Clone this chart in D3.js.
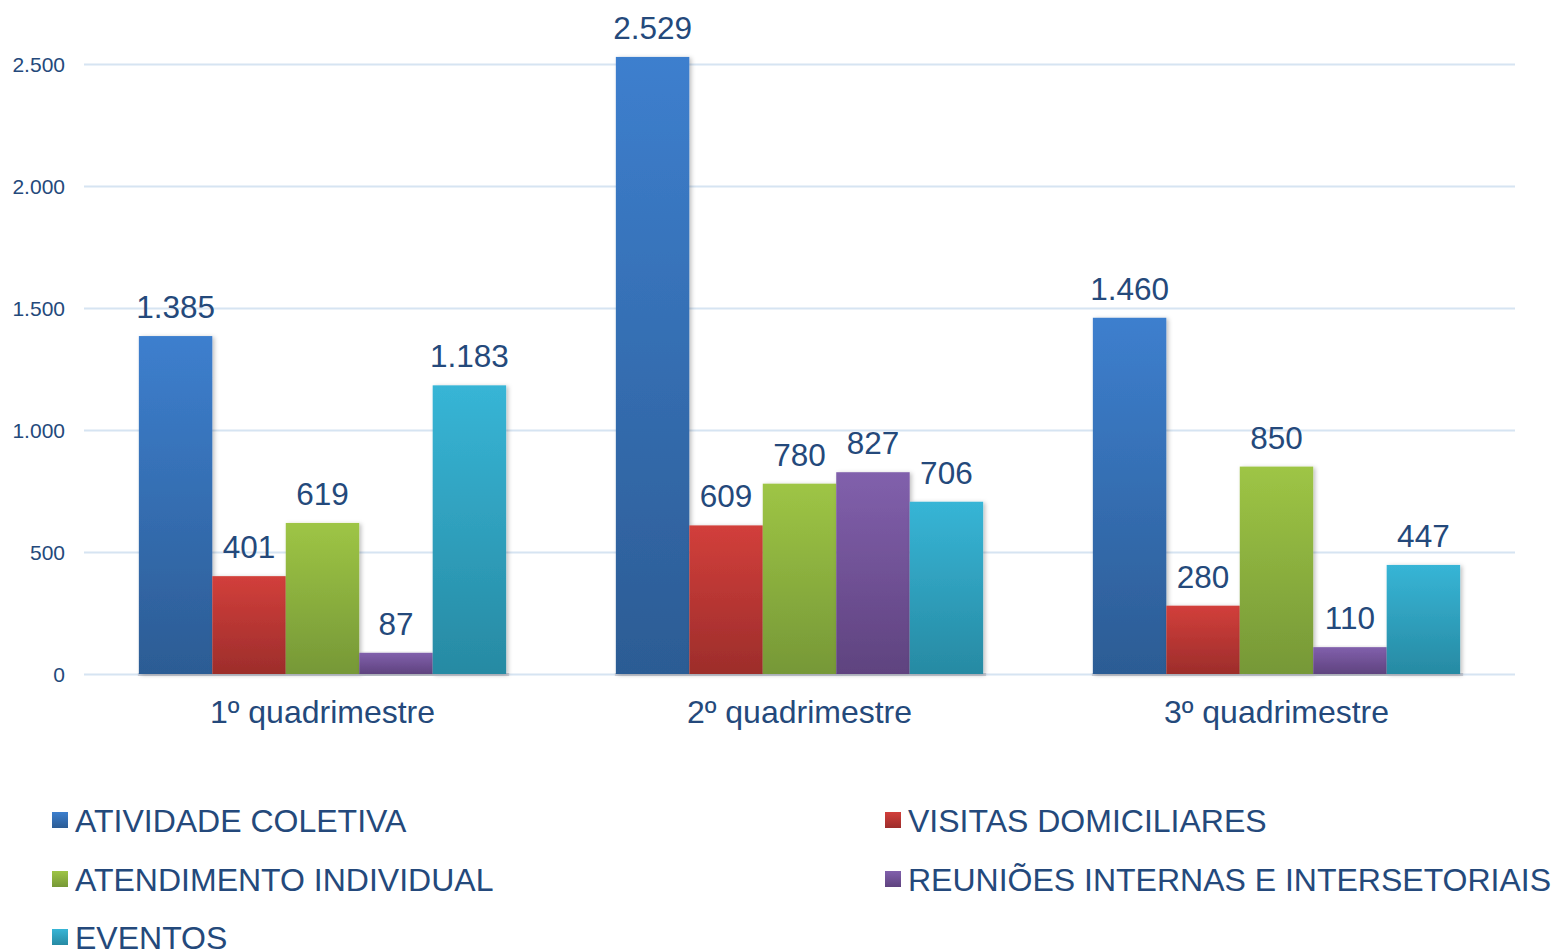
<!DOCTYPE html>
<html lang="pt">
<head>
<meta charset="utf-8">
<title>quadrimestres</title>
<script src="https://cdn.jsdelivr.net/npm/d3@7"></script>
<style>
  body { margin: 0; background: #fff; }
  text { font-family: "Liberation Sans", Arial, sans-serif; fill: #24497b; }
  .grid line { stroke: #d6e4f2; stroke-width: 2; }
  .grid path { stroke-width: 0; }
</style>
</head>
<body>
<script>
// data
var quarters = ["1º quadrimestre", "2º quadrimestre", "3º quadrimestre"];
var series = ["ATIVIDADE COLETIVA", "VISITAS DOMICILIARES", "ATENDIMENTO INDIVIDUAL",
              "REUNIÕES INTERNAS E INTERSETORIAIS", "EVENTOS"];
var atividade = [1385, 2529, 1460];
var visitas = [401, 609, 280];
var atendimento = [619, 780, 850];
var reunioes = [87, 827, 110];
var eventos = [1183, 706, 447];
var yTicks = [0, 500, 1000, 1500, 2000, 2500];

var values = [atividade, visitas, atendimento, reunioes, eventos];
var colorsTop = ["#3d7fce", "#d23f3b", "#9ec545", "#8160ac", "#37b5d6"];
var colorsBottom = ["#2c5c94", "#9d2d2b", "#769837", "#5f437f", "#278aa3"];

var W = 1552, H = 949;
var margin = {left: 84, right: 37, top: 64, bottom: 275};
var width = W - margin.left - margin.right,
    height = 674 - margin.top;

var svg = d3.select("body").append("svg")
    .attr("width", W).attr("height", H);

var defs = svg.append("defs");
series.forEach(function(s, i) {
  var g = defs.append("linearGradient").attr("id", "grad" + i)
      .attr("x1", 0).attr("y1", 0).attr("x2", 0).attr("y2", 1);
  g.append("stop").attr("offset", "0%").attr("stop-color", colorsTop[i]);
  g.append("stop").attr("offset", "100%").attr("stop-color", colorsBottom[i]);
});
var f = defs.append("filter").attr("id", "shadow")
    .attr("x", "-20%").attr("y", "-5%").attr("width", "150%").attr("height", "110%");
f.append("feDropShadow").attr("dx", 2).attr("dy", 1).attr("stdDeviation", 2)
    .attr("flood-color", "#000").attr("flood-opacity", 0.25);

var chart = svg.append("g")
    .attr("transform", "translate(" + margin.left + "," + margin.top + ")");

var x0 = d3.scaleBand().domain(quarters).range([0, width])
    .paddingInner(0.23).paddingOuter(0.115);
var x1 = d3.scaleBand().domain(series).range([0, x0.bandwidth()]);
var y = d3.scaleLinear().domain([0, 2500]).range([height, 0]);

// gridlines
chart.append("g").attr("class", "grid")
  .call(d3.axisLeft(y).tickValues(yTicks).tickSize(-width).tickFormat(""));

// y labels
chart.selectAll(".ylab").data(yTicks).enter().append("text")
  .attr("class", "ylab")
  .attr("x", -19)
  .attr("y", function(d) { return y(d); })
  .attr("dy", "0.36em")
  .attr("text-anchor", "end")
  .style("font-size", "21px")
  .text(function(d) { return d3.format(",")(d).replace(/,/g, "."); });

// floor under each group
chart.selectAll(".floor").data(quarters).enter().append("rect")
  .attr("class", "floor")
  .attr("x", function(d) { return x0(d) - 1; })
  .attr("y", height - 1)
  .attr("width", x0.bandwidth() + 4)
  .attr("height", 3)
  .attr("fill", "#c9ced8");

// bars
var groups = chart.selectAll(".grp").data(quarters).enter().append("g")
  .attr("class", "grp")
  .attr("transform", function(d) { return "translate(" + x0(d) + ",0)"; });

groups.each(function(q, qi) {
  var g = d3.select(this);
  var rows = series.map(function(s, si) { return {s: s, i: si, v: values[si][qi]}; });
  g.selectAll("rect").data(rows).enter().append("rect")
    .attr("x", function(d) { return x1(d.s); })
    .attr("y", function(d) { return y(d.v); })
    .attr("width", x1.bandwidth())
    .attr("height", function(d) { return height - y(d.v); })
    .attr("fill", function(d) { return "url(#grad" + d.i + ")"; })
    .attr("filter", "url(#shadow)");
  g.selectAll(".val").data(rows).enter().append("text")
    .attr("class", "val")
    .attr("x", function(d) { return x1(d.s) + x1.bandwidth() / 2; })
    .attr("y", function(d) { return y(d.v) - 18; })
    .attr("text-anchor", "middle")
    .style("font-size", "31.5px")
    .text(function(d) { return d3.format(",")(d.v).replace(/,/g, "."); });
});

// x labels
chart.selectAll(".xlab").data(quarters).enter().append("text")
  .attr("class", "xlab")
  .attr("x", function(d) { return x0(d) + x0.bandwidth() / 2; })
  .attr("y", height + 49)
  .attr("text-anchor", "middle")
  .style("font-size", "32px")
  .text(function(d) { return d; });

// legend
var legPos = [[52, 820], [885, 820], [52, 879], [885, 879], [52, 937]];
var legend = svg.selectAll(".legend").data(series).enter().append("g")
  .attr("class", "legend")
  .attr("transform", function(d, i) { return "translate(" + legPos[i][0] + "," + legPos[i][1] + ")"; });
legend.append("rect")
  .attr("x", 0).attr("y", -8).attr("width", 16).attr("height", 16)
  .attr("fill", function(d, i) { return "url(#grad" + i + ")"; });
legend.append("text")
  .attr("x", 23).attr("y", 0).attr("dy", "0.36em")
  .style("font-size", "32px")
  .text(function(d) { return d; });
</script>
</body>
</html>
